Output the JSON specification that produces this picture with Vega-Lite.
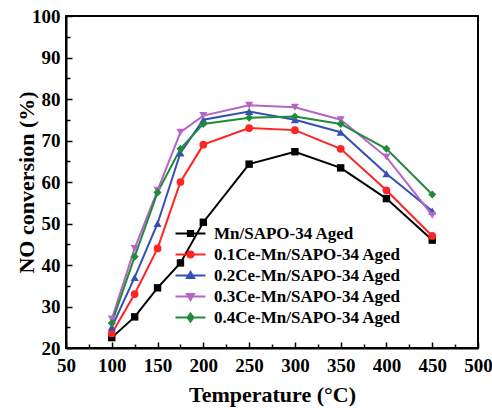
{
  "$schema": "https://vega.github.io/schema/vega-lite/v6.json",
  "width": 412,
  "height": 332,
  "autosize": "none",
  "padding": {"left": 66, "top": 16, "right": 14, "bottom": 60},
  "background": "white",
  "config": {
    "view": {"stroke": "black", "strokeWidth": 2},
    "font": "Liberation Serif",
    "axis": {
      "labelFont": "Liberation Serif", "labelFontWeight": "bold", "labelFontSize": 19, "labelColor": "black",
      "titleFont": "Liberation Serif", "titleFontWeight": "bold", "titleFontSize": 22, "titleColor": "black",
      "tickColor": "black", "tickWidth": 1.5, "domainColor": "black", "domainWidth": 2, "grid": false
    },
    "point": {"filled": true, "size": 55, "opacity": 1}
  },
  "data": {"values": [
    {"series": "Mn/SAPO-34 Aged", "T": 100, "NO": 22.5},
    {"series": "Mn/SAPO-34 Aged", "T": 125, "NO": 27.5},
    {"series": "Mn/SAPO-34 Aged", "T": 150, "NO": 34.5},
    {"series": "Mn/SAPO-34 Aged", "T": 175, "NO": 40.5},
    {"series": "Mn/SAPO-34 Aged", "T": 200, "NO": 50.3},
    {"series": "Mn/SAPO-34 Aged", "T": 250, "NO": 64.3},
    {"series": "Mn/SAPO-34 Aged", "T": 300, "NO": 67.3},
    {"series": "Mn/SAPO-34 Aged", "T": 350, "NO": 63.4},
    {"series": "Mn/SAPO-34 Aged", "T": 400, "NO": 56.0},
    {"series": "Mn/SAPO-34 Aged", "T": 450, "NO": 46.0},
    {"series": "0.1Ce-Mn/SAPO-34 Aged", "T": 100, "NO": 23.5},
    {"series": "0.1Ce-Mn/SAPO-34 Aged", "T": 125, "NO": 33.0},
    {"series": "0.1Ce-Mn/SAPO-34 Aged", "T": 150, "NO": 44.0},
    {"series": "0.1Ce-Mn/SAPO-34 Aged", "T": 175, "NO": 60.0},
    {"series": "0.1Ce-Mn/SAPO-34 Aged", "T": 200, "NO": 69.0},
    {"series": "0.1Ce-Mn/SAPO-34 Aged", "T": 250, "NO": 73.0},
    {"series": "0.1Ce-Mn/SAPO-34 Aged", "T": 300, "NO": 72.5},
    {"series": "0.1Ce-Mn/SAPO-34 Aged", "T": 350, "NO": 68.0},
    {"series": "0.1Ce-Mn/SAPO-34 Aged", "T": 400, "NO": 58.0},
    {"series": "0.1Ce-Mn/SAPO-34 Aged", "T": 450, "NO": 47.0},
    {"series": "0.2Ce-Mn/SAPO-34 Aged", "T": 100, "NO": 25.0},
    {"series": "0.2Ce-Mn/SAPO-34 Aged", "T": 125, "NO": 37.0},
    {"series": "0.2Ce-Mn/SAPO-34 Aged", "T": 150, "NO": 50.0},
    {"series": "0.2Ce-Mn/SAPO-34 Aged", "T": 175, "NO": 67.0},
    {"series": "0.2Ce-Mn/SAPO-34 Aged", "T": 200, "NO": 75.0},
    {"series": "0.2Ce-Mn/SAPO-34 Aged", "T": 250, "NO": 77.0},
    {"series": "0.2Ce-Mn/SAPO-34 Aged", "T": 300, "NO": 75.0},
    {"series": "0.2Ce-Mn/SAPO-34 Aged", "T": 350, "NO": 72.0},
    {"series": "0.2Ce-Mn/SAPO-34 Aged", "T": 400, "NO": 62.0},
    {"series": "0.2Ce-Mn/SAPO-34 Aged", "T": 450, "NO": 53.0},
    {"series": "0.3Ce-Mn/SAPO-34 Aged", "T": 100, "NO": 27.0},
    {"series": "0.3Ce-Mn/SAPO-34 Aged", "T": 125, "NO": 44.0},
    {"series": "0.3Ce-Mn/SAPO-34 Aged", "T": 150, "NO": 58.0},
    {"series": "0.3Ce-Mn/SAPO-34 Aged", "T": 175, "NO": 72.0},
    {"series": "0.3Ce-Mn/SAPO-34 Aged", "T": 200, "NO": 76.0},
    {"series": "0.3Ce-Mn/SAPO-34 Aged", "T": 250, "NO": 78.5},
    {"series": "0.3Ce-Mn/SAPO-34 Aged", "T": 300, "NO": 78.0},
    {"series": "0.3Ce-Mn/SAPO-34 Aged", "T": 350, "NO": 75.0},
    {"series": "0.3Ce-Mn/SAPO-34 Aged", "T": 400, "NO": 66.0},
    {"series": "0.3Ce-Mn/SAPO-34 Aged", "T": 450, "NO": 52.0},
    {"series": "0.4Ce-Mn/SAPO-34 Aged", "T": 100, "NO": 26.0},
    {"series": "0.4Ce-Mn/SAPO-34 Aged", "T": 125, "NO": 42.0},
    {"series": "0.4Ce-Mn/SAPO-34 Aged", "T": 150, "NO": 57.5},
    {"series": "0.4Ce-Mn/SAPO-34 Aged", "T": 175, "NO": 68.0},
    {"series": "0.4Ce-Mn/SAPO-34 Aged", "T": 200, "NO": 74.0},
    {"series": "0.4Ce-Mn/SAPO-34 Aged", "T": 250, "NO": 75.5},
    {"series": "0.4Ce-Mn/SAPO-34 Aged", "T": 300, "NO": 75.8},
    {"series": "0.4Ce-Mn/SAPO-34 Aged", "T": 350, "NO": 74.0},
    {"series": "0.4Ce-Mn/SAPO-34 Aged", "T": 400, "NO": 68.0},
    {"series": "0.4Ce-Mn/SAPO-34 Aged", "T": 450, "NO": 57.0}
  ]},
  "resolve": {"axis": {"x": "independent", "y": "independent"}},
  "layer": [
    {
      "mark": {"type": "line", "strokeWidth": 2},
      "encoding": {
        "x": {
          "field": "T", "type": "quantitative",
          "scale": {"domain": [50, 500], "nice": false},
          "axis": {
            "orient": "bottom", "title": "Temperature (°C)",
            "values": [50, 100, 150, 200, 250, 300, 350, 400, 450, 500],
            "tickSize": -6, "labelPadding": 14, "labelFlush": false, "labelOverlap": false,
            "titlePadding": 9
          }
        },
        "y": {
          "field": "NO", "type": "quantitative",
          "scale": {"domain": [20, 100], "nice": false},
          "axis": {
            "orient": "left", "title": "NO conversion (%)",
            "values": [20, 30, 40, 50, 60, 70, 80, 90, 100],
            "tickSize": -6, "labelPadding": 12, "labelFlush": false, "labelOverlap": false,
            "titlePadding": -7
          }
        },
        "color": {
          "field": "series", "type": "nominal",
          "scale": {
            "domain": ["Mn/SAPO-34 Aged", "0.1Ce-Mn/SAPO-34 Aged", "0.2Ce-Mn/SAPO-34 Aged", "0.3Ce-Mn/SAPO-34 Aged", "0.4Ce-Mn/SAPO-34 Aged"],
            "range": ["#000000", "#ff2424", "#3550b4", "#b565c8", "#208b3b"]
          },
          "legend": {
            "title": null, "orient": "none", "legendX": 116, "legendY": 209, "padding": 0,
            "symbolSize": 64, "symbolStrokeWidth": 2,
            "labelFont": "Liberation Serif", "labelFontWeight": "bold", "labelFontSize": 17, "labelColor": "black",
            "labelOffset": 15, "rowPadding": 3, "labelLimit": 400,
            "encode": {"symbols": {"update": {
              "shape": {"signal": "datum.value === 'Mn/SAPO-34 Aged' ? 'M-3.75,0H3.75M-0.65,-0.65H0.65V0.65H-0.65Z' : datum.value === '0.1Ce-Mn/SAPO-34 Aged' ? 'M-3.75,0H3.75M-0.75,0A0.75,0.75,0,1,0,0.75,0A0.75,0.75,0,1,0,-0.75,0Z' : datum.value === '0.2Ce-Mn/SAPO-34 Aged' ? 'M-3.75,0H3.75M0,-0.9L0.9,0.65L-0.9,0.65Z' : datum.value === '0.3Ce-Mn/SAPO-34 Aged' ? 'M-3.75,0H3.75M0,0.9L0.9,-0.65L-0.9,-0.65Z' : 'M-3.75,0H3.75M0,-1.0L0.75,0L0,1.0L-0.75,0Z'"},
              "fill": {"scale": "color", "field": "value"},
              "stroke": {"scale": "color", "field": "value"},
              "strokeWidth": {"value": 2},
              "opacity": {"value": 1}
            }}}
          }
        }
      }
    },
    {
      "transform": [{"filter": "datum.series === 'Mn/SAPO-34 Aged'"}],
      "mark": {"type": "point", "shape": "square"},
      "encoding": {
        "x": {
          "field": "T", "type": "quantitative",
          "axis": {
            "orient": "bottom", "title": null,
            "values": [75, 125, 175, 225, 275, 325, 375, 425, 475],
            "tickSize": -4, "labels": false, "domain": false
          }
        },
        "y": {
          "field": "NO", "type": "quantitative",
          "axis": {
            "orient": "left", "title": null,
            "values": [25, 35, 45, 55, 65, 75, 85, 95],
            "tickSize": -4, "labels": false, "domain": false
          }
        },
        "color": {"field": "series", "type": "nominal", "legend": null}
      }
    },
    {
      "transform": [{"filter": "datum.series === '0.1Ce-Mn/SAPO-34 Aged'"}],
      "mark": {"type": "point", "shape": "circle", "size": 60},
      "encoding": {
        "x": {"field": "T", "type": "quantitative", "axis": null},
        "y": {"field": "NO", "type": "quantitative", "axis": null},
        "color": {"field": "series", "type": "nominal", "legend": null}
      }
    },
    {
      "transform": [{"filter": "datum.series === '0.2Ce-Mn/SAPO-34 Aged'"}],
      "mark": {"type": "point", "shape": "triangle-up", "size": 65},
      "encoding": {
        "x": {"field": "T", "type": "quantitative", "axis": null},
        "y": {"field": "NO", "type": "quantitative", "axis": null},
        "color": {"field": "series", "type": "nominal", "legend": null}
      }
    },
    {
      "transform": [{"filter": "datum.series === '0.3Ce-Mn/SAPO-34 Aged'"}],
      "mark": {"type": "point", "shape": "triangle-down", "size": 65},
      "encoding": {
        "x": {"field": "T", "type": "quantitative", "axis": null},
        "y": {"field": "NO", "type": "quantitative", "axis": null},
        "color": {"field": "series", "type": "nominal", "legend": null}
      }
    },
    {
      "transform": [{"filter": "datum.series === '0.4Ce-Mn/SAPO-34 Aged'"}],
      "mark": {"type": "point", "shape": "diamond", "size": 65},
      "encoding": {
        "x": {"field": "T", "type": "quantitative", "axis": null},
        "y": {"field": "NO", "type": "quantitative", "axis": null},
        "color": {"field": "series", "type": "nominal", "legend": null}
      }
    }
  ]
}
